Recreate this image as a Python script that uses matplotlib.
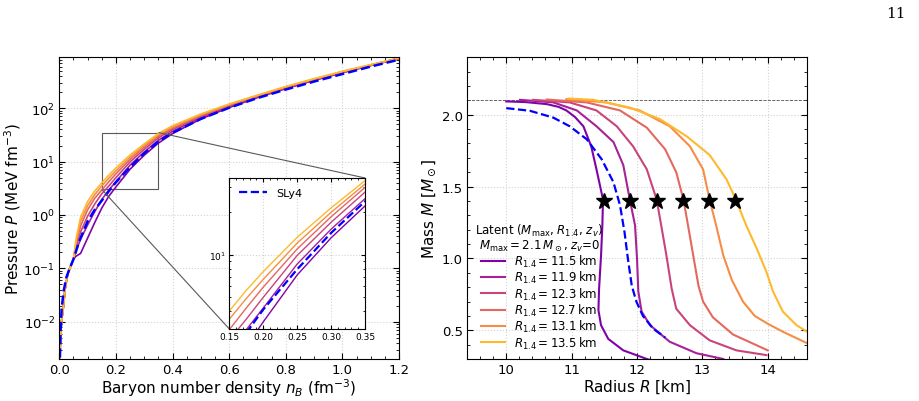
import matplotlib
matplotlib.use("Agg")
import matplotlib.pyplot as plt
import numpy as np
from matplotlib.ticker import AutoMinorLocator, LogLocator, NullFormatter
from mpl_toolkits.axes_grid1.inset_locator import mark_inset

# R_1.4 values of the latent-space models
r14 = [11.5, 11.9, 12.3, 12.7, 13.1, 13.5]
colors = plt.cm.plasma(np.linspace(0.25, 0.85, len(r14)))

# EOS: shared crust then individual cores (n_B in fm^-3, P in MeV fm^-3)
crust_n = [0.001, 0.004, 0.008, 0.015, 0.02, 0.03, 0.05]
crust_p = [0.0012, 0.005, 0.0105, 0.02, 0.04, 0.08, 0.15]
core_n = [0.06, 0.075, 0.1, 0.125, 0.15, 0.175, 0.2, 0.25, 0.3, 0.35, 0.4,
          0.5, 0.6, 0.7, 0.8, 0.9, 1.0, 1.1, 1.2]
core_p_115 = [0.17, 0.19, 0.37, 0.72, 1.35, 2.25, 3.35, 7.2, 13.2, 22.2, 33.5,
              63, 103, 158, 232, 332, 462, 630, 850]
core_p_119 = [0.22, 0.35, 0.65, 1.15, 1.95, 2.95, 4.2, 8.6, 15.2, 25.0, 37.0,
              67, 107, 162, 237, 337, 468, 635, 855]
core_p_123 = [0.26, 0.48, 0.95, 1.6, 2.5, 3.5, 5.0, 9.9, 17.0, 27.8, 40.0,
              70, 111, 166, 242, 342, 474, 640, 860]
core_p_127 = [0.30, 0.62, 1.25, 2.05, 2.95, 4.2, 5.9, 11.0, 18.6, 30.0, 42.5,
              73, 114, 170, 247, 348, 481, 646, 865]
core_p_131 = [0.34, 0.76, 1.5, 2.4, 3.5, 4.9, 6.7, 12.1, 20.0, 31.7, 44.7,
              75.5, 117, 173, 251, 353, 486, 650, 868]
core_p_135 = [0.38, 0.9, 1.8, 2.8, 4.0, 5.6, 7.6, 13.3, 21.5, 33.5, 47.0,
              78, 120, 176, 255, 358, 492, 655, 872]
core_p = [core_p_115, core_p_119, core_p_123, core_p_127, core_p_131, core_p_135]

sly4_n = [0.001, 0.004, 0.008, 0.015, 0.025, 0.035, 0.05, 0.07, 0.1, 0.125, 0.15,
          0.175, 0.2, 0.25, 0.3, 0.35, 0.4, 0.5, 0.6, 0.7, 0.8, 0.9, 1.0, 1.1, 1.2]
sly4_p = [0.0012, 0.006, 0.017, 0.037, 0.068, 0.095, 0.148, 0.32, 0.76, 1.25, 1.86,
          2.8, 4.1, 7.9, 14.3, 23.9, 34.7, 63, 102, 155, 224, 316, 437, 603, 813]

# Mass-radius curves
mr_r_115 = [10.0, 10.3, 10.62, 10.8, 10.92, 11.05, 11.18, 11.30, 11.38, 11.48, 11.47,
            11.45, 11.42, 11.41, 11.45, 11.56, 11.79, 12.15, 12.3]
mr_m_115 = [2.093, 2.088, 2.074, 2.055, 2.03, 1.985, 1.92, 1.78, 1.62, 1.41, 1.23,
            1.02, 0.79, 0.64, 0.535, 0.44, 0.36, 0.30, 0.28]
mr_r_119 = [10.21, 10.72, 11.08, 11.38, 11.64, 11.79, 11.89, 11.97, 12.00, 12.02,
            12.07, 12.20, 12.50, 12.91, 13.32]
mr_m_119 = [2.104, 2.086, 2.03, 1.92, 1.81, 1.65, 1.41, 1.23, 1.0, 0.77,
            0.63, 0.535, 0.42, 0.34, 0.30]
mr_r_123 = [10.41, 10.97, 11.38, 11.69, 11.94, 12.15, 12.30, 12.37, 12.45, 12.53,
            12.60, 12.81, 13.11, 13.52, 13.98]
mr_m_123 = [2.104, 2.086, 2.03, 1.92, 1.78, 1.62, 1.41, 1.23, 1.02, 0.79,
            0.65, 0.535, 0.43, 0.36, 0.327]
mr_r_127 = [10.62, 11.23, 11.74, 12.15, 12.43, 12.60, 12.71, 12.78, 12.86, 12.94,
            13.01, 13.16, 13.47, 14.0]
mr_m_127 = [2.106, 2.086, 2.03, 1.91, 1.76, 1.60, 1.41, 1.23, 1.02, 0.81,
            0.70, 0.59, 0.47, 0.36]
mr_r_131 = [10.92, 11.53, 12.04, 12.50, 12.81, 13.01, 13.11, 13.21, 13.32, 13.45,
            13.62, 13.80, 14.0, 14.23, 14.6]
mr_m_131 = [2.109, 2.086, 2.03, 1.92, 1.78, 1.62, 1.41, 1.23, 1.02, 0.85,
            0.70, 0.60, 0.545, 0.49, 0.41]
mr_r_135 = [10.95, 11.33, 11.89, 12.35, 12.76, 13.11, 13.37, 13.52, 13.67, 13.83,
            13.98, 14.08, 14.23, 14.44, 14.6]
mr_m_135 = [2.113, 2.104, 2.05, 1.97, 1.85, 1.72, 1.55, 1.40, 1.23, 1.07,
            0.905, 0.77, 0.63, 0.535, 0.49]
mr_r = [mr_r_115, mr_r_119, mr_r_123, mr_r_127, mr_r_131, mr_r_135]
mr_m = [mr_m_115, mr_m_119, mr_m_123, mr_m_127, mr_m_131, mr_m_135]

sly4_r = [10.0, 10.36, 10.72, 10.97, 11.23, 11.46, 11.64, 11.74, 11.81, 11.86,
          11.92, 11.99, 12.09, 12.25, 12.43]
sly4_m = [2.046, 2.028, 1.98, 1.92, 1.83, 1.69, 1.53, 1.37, 1.18, 1.0,
          0.81, 0.70, 0.60, 0.51, 0.45]

m_max = 2.1
m_star = 1.4


def style_axes(ax, size=9.5):
    ax.tick_params(which='both', direction='in', top=True, right=True, labelsize=size)
    ax.tick_params(which='major', length=4, pad=3)
    ax.tick_params(which='minor', length=2)
    ax.grid(True, which='major', linestyle=':', color='lightgray', linewidth=0.8)


fig = plt.figure(figsize=(9.2, 4.02), dpi=100)

# ---- left: EOS ----
ax1 = fig.add_axes([0.0645, 0.1045, 0.3692, 0.7505])
for i in range(len(r14)):
    n = crust_n + core_n
    p = crust_p + core_p[i]
    ax1.plot(n, p, color=colors[i], lw=1.2)
ax1.plot(sly4_n, sly4_p, color='blue', ls='--', lw=1.8)
ax1.set_yscale('log')
ax1.set_xlim(0, 1.2)
ax1.set_ylim(2e-3, 9e2)
ax1.xaxis.set_minor_locator(AutoMinorLocator())
ax1.yaxis.set_major_locator(LogLocator(base=10, numticks=10))
ax1.yaxis.set_minor_locator(LogLocator(base=10, subs=np.arange(2, 10), numticks=20))
ax1.yaxis.set_minor_formatter(NullFormatter())
style_axes(ax1)
ax1.set_xlabel(r'Baryon number density $n_B$ (fm$^{-3}$)', fontsize=11, labelpad=0)
ax1.set_ylabel(r'Pressure $P$ (MeV fm$^{-3}$)', fontsize=11, labelpad=0)

# inset zoom
axins = ax1.inset_axes([0.5, 0.1, 0.4, 0.5])
for i in range(len(r14)):
    axins.plot(crust_n + core_n, crust_p + core_p[i], color=colors[i], lw=1.0)
axins.plot(sly4_n, sly4_p, color='blue', ls='--', lw=1.6, label='SLy4')
axins.set_yscale('log')
axins.set_xlim(0.15, 0.35)
axins.set_ylim(3, 35)
axins.set_xticks([0.15, 0.20, 0.25, 0.30, 0.35])
axins.xaxis.set_minor_locator(AutoMinorLocator())
axins.yaxis.set_minor_formatter(NullFormatter())
style_axes(axins, size=6.5)
axins.tick_params(which='major', length=3, pad=2)
axins.tick_params(which='minor', length=1.5)
axins.legend(loc='upper left', frameon=False, fontsize=8, handlelength=2.5)
mark_inset(ax1, axins, loc1=1, loc2=3, fc='none', ec='0.35', lw=0.8)

# ---- right: M-R ----
ax2 = fig.add_axes([0.5076, 0.1045, 0.3696, 0.7505])
ax2.axhline(m_max, color='0.3', ls='--', lw=0.6)
for i in range(len(r14)):
    ax2.plot(mr_r[i], mr_m[i], color=colors[i], lw=1.5,
             label=r'$R_{1.4}=%.1f\,$km' % r14[i])
ax2.plot(sly4_r, sly4_m, color='blue', ls='--', lw=1.6)
ax2.plot(r14, [m_star] * len(r14), ls='none', marker='*', color='black',
         markersize=12, zorder=5)
ax2.set_xlim(9.4, 14.6)
ax2.set_ylim(0.3, 2.4)
ax2.set_yticks([0.5, 1.0, 1.5, 2.0])
ax2.xaxis.set_minor_locator(AutoMinorLocator())
ax2.yaxis.set_minor_locator(AutoMinorLocator())
style_axes(ax2)
ax2.set_xlabel(r'Radius $R$ [km]', fontsize=11, labelpad=1)
ax2.set_ylabel(r'Mass $M$ [$M_\odot$]', fontsize=11, labelpad=3)
leg = ax2.legend(loc='lower left', frameon=False, fontsize=8.5,
                 title='Latent ($M_{\\rm max}$, $R_{1.4}$, $z_v$)\n'
                       '$M_{\\rm max}=2.1\\,M_\\odot$, $z_v$=0',
                 title_fontsize=8.5, handlelength=2.0, handletextpad=0.8,
                 labelspacing=0.02, borderaxespad=0.3)
leg.get_title().set_multialignment('center')
leg.get_title().set_linespacing(0.95)

fig.text(0.984, 0.955, '11', family='DejaVu Serif', fontsize=11, ha='right')

plt.savefig('out.png', dpi=100)
